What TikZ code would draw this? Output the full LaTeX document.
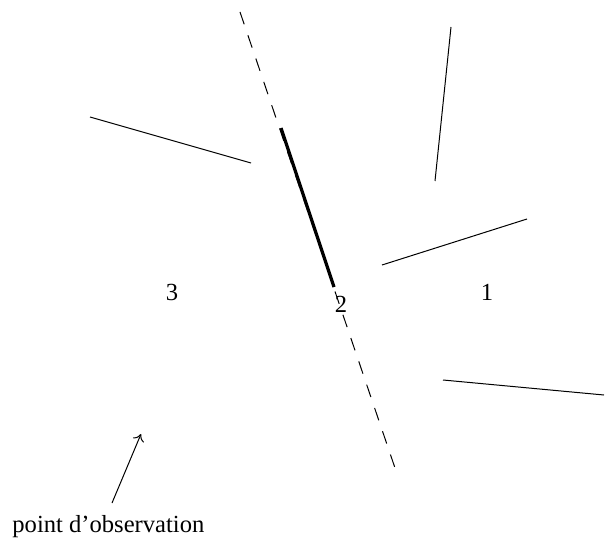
\documentclass[tikz,border=0pt]{standalone}
\usepackage{fontspec}
\setmainfont{Liberation Serif}
\usetikzlibrary{arrows.meta}
\tikzset{
  wall/.style={line width=0.5pt},
  seenwall/.style={line width=1.6pt},
  sightline/.style={line width=0.5pt, dash pattern=on 6.5pt off 5.8pt},
  zonelabel/.style={font=\fontsize{12.3}{14}\selectfont, inner sep=0pt},
  notelabel/.style={font=\fontsize{12.3}{14}\selectfont, inner sep=0pt, anchor=base west}
}
\begin{document}
\begin{tikzpicture}[x=0.5pt, y=-0.5pt]
  \useasboundingbox (0,0) rectangle (605,540);

  % line of sight through wall 2
  \coordinate (s1) at (240,12);
  \coordinate (s2) at (395,468);
  \draw[sightline] (s1) -- (s2);

  % walls
  \coordinate (a1) at (90,117);   \coordinate (a2) at (251,163);
  \coordinate (b1) at (451,27);   \coordinate (b2) at (435,181);
  \coordinate (c1) at (382,265);  \coordinate (c2) at (527,219);
  \coordinate (d1) at (443,380);  \coordinate (d2) at (604,395);
  \coordinate (w1) at (281,128);  \coordinate (w2) at (334,287);
  \draw[wall] (a1) -- (a2);
  \draw[wall] (b1) -- (b2);
  \draw[wall] (c1) -- (c2);
  \draw[wall] (d1) -- (d2);
  \draw[seenwall] (w1) -- (w2);

  % zones
  \node[zonelabel] (z3) at (172,292) {3};
  \node[zonelabel] (z2) at (341,304) {2};
  \node[zonelabel] (z1) at (487,292) {1};

  % observer
  \node[notelabel] (obs) at (12,532) {point d'observation};
  \coordinate (foot) at (112,503);
  \coordinate (eye) at (141,434);
  \draw[wall, -{To[length=3.5pt,width=6pt]}] (foot) -- (eye);
\end{tikzpicture}
\end{document}
